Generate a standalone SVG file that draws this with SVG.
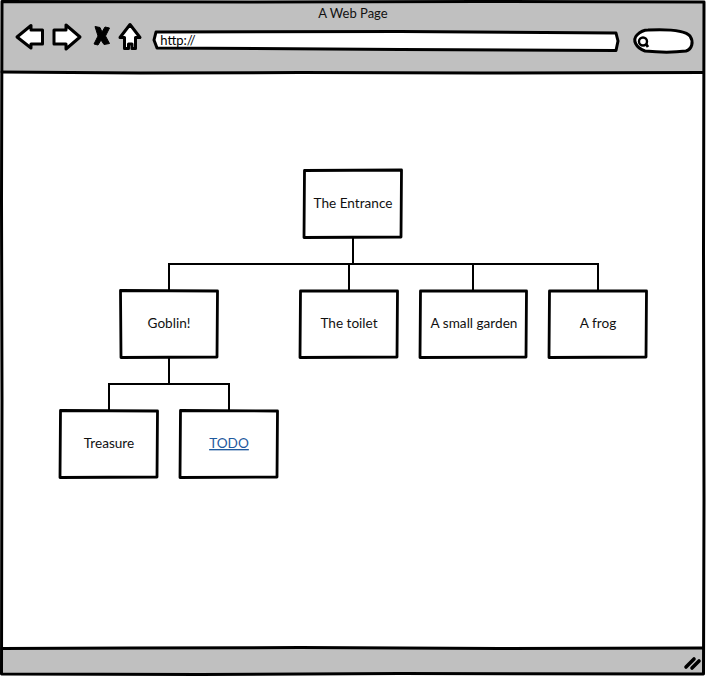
<svg xmlns="http://www.w3.org/2000/svg" width="706" height="676" viewBox="0 0 706 676">
<style>
.k{fill:none;stroke:#000;stroke-width:3;stroke-linejoin:round;stroke-linecap:round}
.n{fill:#fff;stroke:#000;stroke-width:2.800;stroke-linejoin:round}
.i{fill:#fff;stroke:#000;stroke-width:3;stroke-linejoin:round}
.c{fill:none;stroke:#000;stroke-width:2}
text{font-family:"Lato","Noto Sans",sans-serif;font-size:13.600px;fill:#111;text-anchor:middle}
</style>
<rect width="706" height="676" fill="#fff"/>
<g id="browser-frame">
<path d="M1.500 2 L704 1.500 L703.500 73 L1.500 72 Z" fill="#c0c0c0"/>
<path d="M1.500 648 L703.500 648 L703.500 674 L1.500 674 Z" fill="#c0c0c0"/>
<path class="k" d="M2 1.500 L250 2 L480 1.500 L704 2 L703.500 250 L704 500 L703.500 674 L400 673.500 L200 674.500 L1.500 674 L2 400 L1.500 200 Z"/>
<path class="k" d="M2 72 L140 73 L300 72.500 L480 73 L703 72.500"/>
<path class="k" d="M2 648.500 L130 648 L300 647.500 L500 648.500 L703 648"/>
<text x="353" y="18" style="font-size:13px">A Web Page</text>
</g>
<g id="nav-back"><path class="i" d="M17 37 L31 25.500 L31 30 L42.500 30 L42.500 44 L31 44 L31 48 Z"/></g>
<g id="nav-forward"><path class="i" d="M80 37 L66 25 L66 30 L54 30 L54 44 L66 44 L66 49 Z"/></g>
<g id="nav-stop"><path d="M95 26.500 L100 27.500 L102 32 L105 27 L109.500 28 L105.500 36 L109.500 43.500 L104 44.500 L101 40 L98 45 L94 44 L98 36 Z" fill="#000" stroke="#000" stroke-linejoin="round"/></g>
<g id="nav-home"><path class="i" d="M130 24.500 L140 37.500 L135.500 37.500 L135.500 48.500 L132 48.500 L132 44 L128.500 44 L128.500 48.500 L124.500 48.500 L124.500 37.500 L120 37.500 Z"/></g>
<g id="address-bar"><path class="i" d="M156 32 L400 31.500 L616 33 L618 41 L616 50.500 L400 49.500 L157 48 L154 40 Z"/><text x="178" y="45" style="font-size:13px;fill:#000">http://</text></g>
<g id="search-box"><path class="i" d="M648 30 C670 29 685 30 690 36 C694 42 692 49 686 51 C670 53 655 52 645 51 C636 48 632 40 637 35 C640 32 644 30 648 30 Z"/><circle cx="643" cy="41.500" r="4" fill="none" stroke="#000" stroke-width="2.400"/><path d="M646 44 L648 47" stroke="#000" stroke-width="2.800" fill="none"/></g>
<g id="resize-grip"><path d="M686 667 L694 659 M692 668 L699 661" stroke="#000" stroke-width="3.600" stroke-linecap="round" fill="none"/></g>
<g id="connectors">
<path class="c" d="M353 237 V264 M169 290 V264 H598 V290 M349 264 V290 M473 264 V290"/>
<path class="c" d="M169 357 V384 M109 410 V384 H229 V410"/>
</g>
<g id="node-entrance"><path class="n" d="M304.500 170.500 L401.500 170 L401 237 L304 237.500 Z"/><text x="353" y="208">The Entrance</text></g>
<g id="node-goblin"><path class="n" d="M120.500 290.500 L217.500 291 L217 357 L121 357.500 Z"/><text x="169" y="328">Goblin!</text></g>
<g id="node-toilet"><path class="n" d="M300.500 291 L397.500 291 L397 357 L300 357.500 Z"/><text x="349" y="328">The toilet</text></g>
<g id="node-garden"><path class="n" d="M420.500 291 L526.500 291 L526 357 L420 357.500 Z"/><text x="474" y="328">A small garden</text></g>
<g id="node-frog"><path class="n" d="M549.500 291 L646.500 291 L646 357 L549 357.500 Z"/><text x="598" y="328">A frog</text></g>
<g id="node-treasure"><path class="n" d="M60.500 410.500 L157.500 411 L157 477 L60 477.500 Z"/><text x="109" y="448">Treasure</text></g>
<g id="node-todo"><path class="n" d="M180.500 410.500 L277.500 411 L277 477 L180 477.500 Z"/><text x="229" y="448" text-decoration="underline" style="fill:#1f5a9e">TODO</text></g>
</svg>
